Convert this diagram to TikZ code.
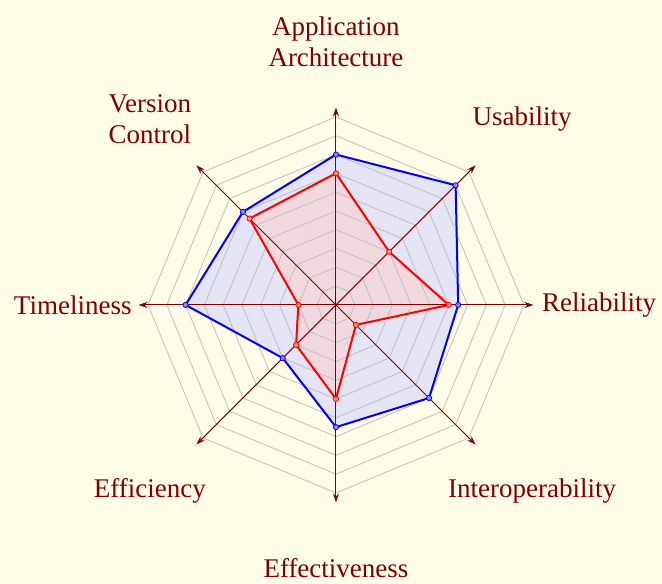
\documentclass[tikz,border=0pt]{standalone}
\usepackage{fontspec}
\setmainfont{Liberation Serif}
\usetikzlibrary{arrows.meta}

\definecolor{paper}{RGB}{255,253,232}
\definecolor{axisred}{RGB}{128,0,0}
\definecolor{bluefill}{RGB}{228,228,244}
\definecolor{redfill}{RGB}{240,216,222}

\begin{document}
\begin{tikzpicture}[x=9.4pt,y=9.4pt,
  axis/.style={draw=axisred,line width=0.5pt,-{Stealth[length=4.5pt,width=3pt]}},
  ring/.style={draw=black!25,line width=0.4pt},
  lbl/.style={text=axisred,font=\fontsize{13.5}{15.5}\selectfont,align=center},
  serie/.style={draw=#1,line width=1pt},
  dot/.style={circle,draw=#1,fill=#1!45,line width=0.4pt,inner sep=0pt,minimum size=2.6pt}]
\fill[paper] (-17.87,-14.84) rectangle (17.34,16.22);
\useasboundingbox (-17.87,-14.84) rectangle (17.34,16.22);
\coordinate (o) at (0,0);
% data points
\foreach \a/\v [count=\i] in {90/8,45/9,0/6.5,-45/7,-90/6.5,-135/4,180/8,135/7}
  \coordinate (b\i) at (\a:\v);
\foreach \a/\v [count=\i] in {90/7,45/4,0/6,-45/1.5,-90/5,-135/3,180/2,135/6.5}
  \coordinate (r\i) at (\a:\v);
% areas
\fill[bluefill] (b1) -- (b2) -- (b3) -- (b4) -- (b5) -- (b6) -- (b7) -- (b8) -- cycle;
\fill[redfill] (r1) -- (r2) -- (r3) -- (r4) -- (r5) -- (r6) -- (r7) -- (r8) -- cycle;
% grid
\foreach \r in {1,...,10}
  \draw[ring] (0:\r) \foreach \a in {45,90,...,315} { -- (\a:\r)} -- cycle;
% axes
\foreach \a [count=\i] in {90,45,0,-45,-90,-135,180,135} {
  \coordinate (ax\i) at (\a:10.5);
  \draw[axis] (o) -- (ax\i);
}
\node[lbl] (arch) at (90:14) {Application\\Architecture};
\node[lbl] (usab) at (45:14) {Usability};
\node[lbl] (reli) at (0:14) {Reliability};
\node[lbl,xshift=5pt] (inter) at (-45:14) {Interoperability};
\node[lbl] (effect) at (-90:14) {Effectiveness};
\node[lbl] (effic) at (-135:14) {Efficiency};
\node[lbl] (time) at (180:14) {Timeliness};
\node[lbl] (vers) at (135:14) {Version\\Control};
% outlines
\draw[serie=blue] (b1) -- (b2) -- (b3) -- (b4) -- (b5) -- (b6) -- (b7) -- (b8) -- cycle;
\foreach \i in {1,...,8}
  \node[dot=blue] (bd\i) at (b\i) {};
\draw[serie=red] (r1) -- (r2) -- (r3) -- (r4) -- (r5) -- (r6) -- (r7) -- (r8) -- cycle;
\foreach \i in {1,...,8}
  \node[dot=red] (rd\i) at (r\i) {};
\end{tikzpicture}
\end{document}
